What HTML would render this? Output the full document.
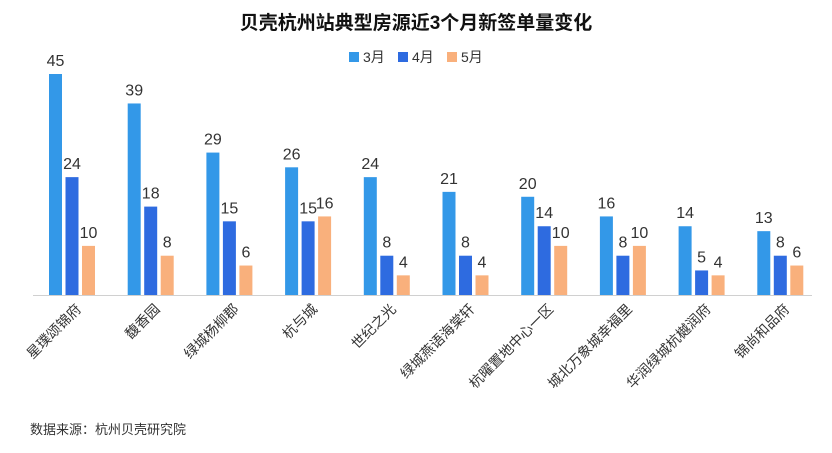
<!DOCTYPE html>
<html><head><meta charset="utf-8"><style>
body{margin:0;background:#fff;font-family:"Liberation Sans","Noto Sans CJK SC",sans-serif}
svg text{font-family:"Liberation Sans","Noto Sans CJK SC",sans-serif}
</style></head><body>
<svg id="c" width="832" height="448">
<text x="416" y="29" text-anchor="middle" font-size="19" font-weight="bold" fill="#111">贝壳杭州站典型房源近3个月新签单量变化</text>
<g>
<rect x="349" y="52" width="10" height="10" fill="#3398e8"/>
<text x="363" y="62" font-size="14" fill="#333">3月</text>
<rect x="398" y="52" width="10" height="10" fill="#2e6be0"/>
<text x="412" y="62" font-size="14" fill="#333">4月</text>
<rect x="447" y="52" width="10" height="10" fill="#f9b07c"/>
<text x="461" y="62" font-size="14" fill="#333">5月</text>
</g>
<line x1="33" y1="295.5" x2="812" y2="295.5" stroke="#d0d0d0"/>
<g id="bars"></g>
<text x="30" y="434" font-size="13" fill="#333">数据来源：杭州贝壳研究院</text>
</svg>
<script>
const categories=["星璞颂锦府","馥香园","绿城杨柳郡","杭与城","世纪之光","绿城燕语海棠轩","杭曜置地中心一区","城北万象城幸福里","华润绿城杭樾润府","锦尚和品府"];
const mar=[45,39,29,26,24,21,20,16,14,13];
const apr=[24,18,15,15,8,8,14,8,5,8];
const may=[10,8,6,16,4,4,10,10,4,6];
const seriesColors=["#3398e8","#2e6be0","#f9b07c"];
const series=[mar,apr,may];
const base=295, scale=221/45, x0=49, step=78.7, bw=13, bstep=16.5;
const y=v=>base-v*scale;
const g=document.getElementById('bars');
const ns='http://www.w3.org/2000/svg';
categories.forEach((cat,i)=>{
  series.forEach((s,k)=>{
    const x=x0+i*step+k*bstep;
    const r=document.createElementNS(ns,'rect');
    r.setAttribute('x',x);r.setAttribute('y',y(s[i]));
    r.setAttribute('width',bw);r.setAttribute('height',base-y(s[i]));
    r.setAttribute('fill',seriesColors[k]);
    
    
    g.appendChild(r);
    const t=document.createElementNS(ns,'text');
    t.setAttribute('x',x+bw/2);t.setAttribute('y',y(s[i])-8);
    t.setAttribute('text-anchor','middle');t.setAttribute('font-size','16');t.setAttribute('fill','#333');
    
    
    t.textContent=s[i];
    g.appendChild(t);
  });
  const cx=x0+i*step+bstep+bw/2+10;
  const t=document.createElementNS(ns,'text');
  t.setAttribute('x',cx);t.setAttribute('y',310);
  t.setAttribute('text-anchor','end');t.setAttribute('font-size','14');t.setAttribute('fill','#333');
  t.setAttribute('transform','rotate(-45 '+cx+' 310)');
  
  
  t.textContent=cat;
  g.appendChild(t);
});
</script>
</body></html>
